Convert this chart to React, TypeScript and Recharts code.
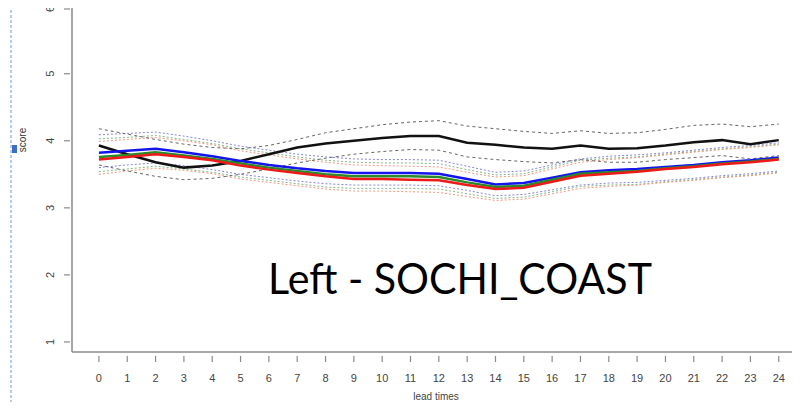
import { LineChart, Line, XAxis, YAxis } from 'recharts';

// lead times 0..24
const leadTimes = [0, 1, 2, 3, 4, 5, 6, 7, 8, 9, 10, 11, 12, 13, 14, 15, 16, 17, 18, 19, 20, 21, 22, 23, 24];
const yTicks = [1, 2, 3, 4, 5, 6];

// solid mean scores
const blackScore = [3.93, 3.8, 3.68, 3.6, 3.63, 3.7, 3.8, 3.9, 3.96, 4.0, 4.04, 4.07, 4.07, 3.97, 3.94, 3.9, 3.88, 3.93, 3.88, 3.89, 3.93, 3.98, 4.01, 3.95, 4.01];
const blueScore = [3.82, 3.85, 3.88, 3.83, 3.77, 3.7, 3.64, 3.59, 3.55, 3.52, 3.52, 3.52, 3.51, 3.43, 3.35, 3.37, 3.45, 3.53, 3.56, 3.58, 3.61, 3.64, 3.68, 3.71, 3.75];
const greenScore = [3.76, 3.79, 3.83, 3.78, 3.73, 3.66, 3.6, 3.55, 3.5, 3.47, 3.47, 3.47, 3.46, 3.38, 3.31, 3.33, 3.42, 3.51, 3.53, 3.55, 3.59, 3.62, 3.66, 3.69, 3.73];
const redScore = [3.72, 3.76, 3.8, 3.76, 3.71, 3.63, 3.57, 3.52, 3.47, 3.43, 3.43, 3.42, 3.41, 3.34, 3.28, 3.3, 3.39, 3.48, 3.51, 3.54, 3.58, 3.61, 3.65, 3.68, 3.72];

// dotted / dashed bounds
const blackUpper = [4.18, 4.1, 4.02, 3.95, 3.9, 3.88, 3.93, 4.02, 4.12, 4.18, 4.24, 4.28, 4.3, 4.22, 4.18, 4.14, 4.11, 4.15, 4.11, 4.12, 4.17, 4.23, 4.25, 4.21, 4.25];
const blackLower = [3.64, 3.55, 3.47, 3.42, 3.44, 3.5, 3.58, 3.67, 3.74, 3.8, 3.84, 3.87, 3.86, 3.76, 3.72, 3.69, 3.67, 3.72, 3.68, 3.68, 3.72, 3.75, 3.78, 3.73, 3.78];
const blueUpper = [4.09, 4.11, 4.13, 4.07, 4.0, 3.92, 3.86, 3.8, 3.76, 3.73, 3.72, 3.72, 3.71, 3.62, 3.53, 3.55, 3.64, 3.73, 3.77, 3.79, 3.82, 3.86, 3.9, 3.93, 3.97];
const blueLower = [3.6, 3.64, 3.67, 3.63, 3.57, 3.5, 3.45, 3.4, 3.36, 3.34, 3.34, 3.34, 3.33, 3.26, 3.18, 3.2, 3.27, 3.34, 3.37, 3.38, 3.41, 3.44, 3.48, 3.51, 3.55];
const greenUpper = [4.03, 4.05, 4.08, 4.02, 3.96, 3.88, 3.82, 3.76, 3.71, 3.68, 3.67, 3.67, 3.66, 3.57, 3.49, 3.51, 3.61, 3.71, 3.74, 3.76, 3.8, 3.84, 3.88, 3.91, 3.95];
const greenLower = [3.54, 3.58, 3.62, 3.58, 3.53, 3.46, 3.41, 3.36, 3.31, 3.29, 3.29, 3.29, 3.28, 3.21, 3.14, 3.16, 3.24, 3.32, 3.34, 3.35, 3.39, 3.42, 3.46, 3.49, 3.53];
const redUpper = [3.99, 4.02, 4.05, 4.0, 3.94, 3.85, 3.79, 3.73, 3.68, 3.64, 3.63, 3.62, 3.61, 3.53, 3.46, 3.48, 3.58, 3.68, 3.72, 3.75, 3.79, 3.83, 3.87, 3.9, 3.94];
const redLower = [3.5, 3.55, 3.59, 3.56, 3.51, 3.43, 3.38, 3.33, 3.28, 3.25, 3.25, 3.24, 3.23, 3.17, 3.11, 3.13, 3.21, 3.29, 3.32, 3.34, 3.38, 3.41, 3.45, 3.48, 3.52];

const data = leadTimes.map((lead, i) => ({
  lead,
  black: blackScore[i],
  blue: blueScore[i],
  green: greenScore[i],
  red: redScore[i],
  blackUp: blackUpper[i],
  blackLo: blackLower[i],
  blueUp: blueUpper[i],
  blueLo: blueLower[i],
  greenUp: greenUpper[i],
  greenLo: greenLower[i],
  redUp: redUpper[i],
  redLo: redLower[i],
}));

const AXIS_GREY = '#8a8a8a';
const TICK_FONT = '"Liberation Sans", Arial, sans-serif';

function YTick({ x, y, payload }: any) {
  return (
    <g>
      <line x1={x - 8} x2={x - 2} y1={y} y2={y} stroke={AXIS_GREY} strokeWidth={1.2} />
      <text
        x={x - 22}
        y={y}
        transform={`rotate(-90 ${x - 22} ${y})`}
        textAnchor="middle"
        dominantBaseline="central"
        fontSize={11}
        fontFamily={TICK_FONT}
        fill="#444"
      >
        {payload.value}
      </text>
    </g>
  );
}

function XTick({ x, y, payload }: any) {
  return (
    <g>
      <line x1={x} x2={x} y1={y + 4} y2={y + 10} stroke={AXIS_GREY} strokeWidth={1.2} />
      <text
        x={x}
        y={y + 26}
        textAnchor="middle"
        dominantBaseline="central"
        fontSize={11}
        fontFamily={TICK_FONT}
        fill="#444"
      >
        {payload.value}
      </text>
    </g>
  );
}

const dotted = [
  { key: 'blueUp', color: '#8585d8', dash: '2 2' },
  { key: 'blueLo', color: '#8585d8', dash: '2 2' },
  { key: 'greenUp', color: '#86b486', dash: '2 2' },
  { key: 'greenLo', color: '#86b486', dash: '2 2' },
  { key: 'redUp', color: '#f09a80', dash: '2 2' },
  { key: 'redLo', color: '#f09a80', dash: '2 2' },
  { key: 'blackUp', color: '#666', dash: '3 3' },
  { key: 'blackLo', color: '#666', dash: '3 3' },
];

export default function App() {
  return (
    <div style={{ position: 'relative', width: 800, height: 410, margin: -8, overflow: 'hidden', background: '#fff' }}>
      <LineChart width={800} height={410} data={data} margin={{ top: 0, right: 0, left: 0, bottom: 0 }}>
        <XAxis
          dataKey="lead"
          type="number"
          domain={[-0.95, 24.75]}
          ticks={leadTimes}
          interval={0}
          allowDataOverflow
          height={58}
          tickSize={0}
          tickMargin={0}
          tickLine={false}
          axisLine={{ stroke: AXIS_GREY, strokeWidth: 1.5 }}
          tick={<XTick />}
        />
        <YAxis
          type="number"
          domain={[0.85, 6.1]}
          ticks={yTicks}
          allowDataOverflow
          width={72}
          tickSize={0}
          tickMargin={0}
          tickLine={false}
          axisLine={{ stroke: AXIS_GREY, strokeWidth: 1.5 }}
          tick={<YTick />}
        />
        {dotted.map((d) => (
          <Line
            key={d.key}
            dataKey={d.key}
            type="linear"
            stroke={d.color}
            strokeWidth={1}
            strokeDasharray={d.dash}
            dot={false}
            isAnimationActive={false}
          />
        ))}
        <Line dataKey="black" type="linear" stroke="#111" strokeWidth={2.5} dot={false} isAnimationActive={false} />
        <Line dataKey="blue" type="linear" stroke="#1414ee" strokeWidth={2.5} dot={false} isAnimationActive={false} />
        <Line dataKey="green" type="linear" stroke="#2a8a2a" strokeWidth={2.5} dot={false} isAnimationActive={false} />
        <Line dataKey="red" type="linear" stroke="#ee1a1a" strokeWidth={2.5} dot={false} isAnimationActive={false} />
      </LineChart>

      {/* selection frame, axis titles and slide caption */}
      <svg width={800} height={410} style={{ position: 'absolute', left: 0, top: 0, pointerEvents: 'none' }}>
        <line x1={11} x2={11} y1={0} y2={410} stroke="#6f9bd6" strokeWidth={1} strokeDasharray="3 2" />
        <rect x={12} y={145} width={5} height={8} fill="#3a6fc4" />
        <text
          x={22}
          y={140}
          transform="rotate(-90 22 140)"
          textAnchor="middle"
          dominantBaseline="central"
          fontSize={10}
          fontFamily={TICK_FONT}
          fill="#333"
        >
          score
        </text>
        <text x={436} y={400} textAnchor="middle" fontSize={10} fontFamily={TICK_FONT} fill="#444">
          lead times
        </text>
        <text x={268} y={294} fontSize={43} fontFamily="Lato, sans-serif" fill="#000" textLength={384} lengthAdjust="spacingAndGlyphs">
          Left - SOCHI_COAST
        </text>
      </svg>
    </div>
  );
}
